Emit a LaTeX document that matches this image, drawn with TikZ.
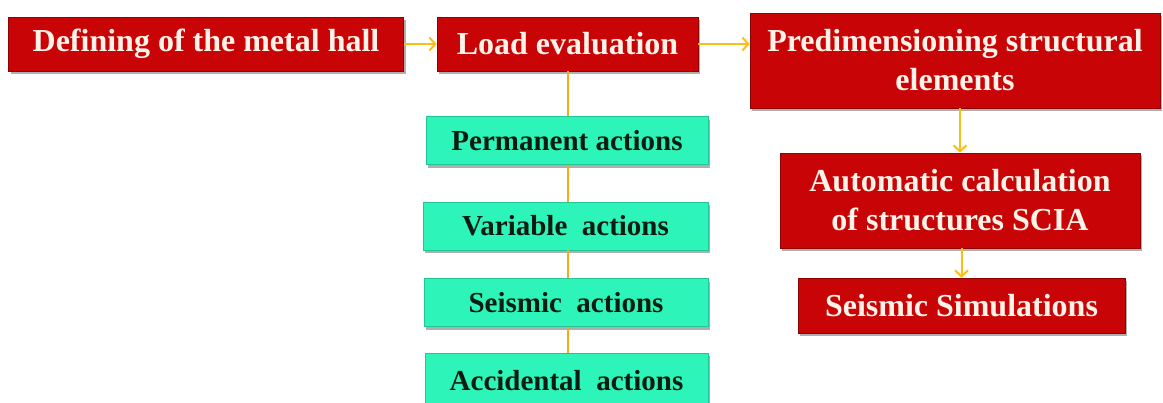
\documentclass[tikz,border=0pt]{standalone}
\usepackage{fontspec}
\setmainfont{Liberation Serif}
\usetikzlibrary{shadows,arrows.meta}
\definecolor{boxred}{RGB}{200,4,6}
\definecolor{boxgreen}{RGB}{45,245,185}
\definecolor{txtred}{RGB}{255,242,232}
\definecolor{txtgreen}{RGB}{12,28,16}
\definecolor{linkgold}{RGB}{250,190,20}
\definecolor{linkorange}{RGB}{250,170,20}
\definecolor{shadowgray}{RGB}{175,175,175}
\tikzset{
  boxshadow/.style={drop shadow={fill=shadowgray, opacity=1, shadow xshift=2pt, shadow yshift=-3pt}},
  redbox/.style={draw=boxred!70!black, line width=0.6pt, fill=boxred, text=txtred,
    font=\bfseries\fontsize{32}{39}\selectfont, align=center, inner sep=0pt, boxshadow},
  greenbox/.style={draw=boxgreen!80!black, line width=0.6pt, fill=boxgreen, text=txtgreen,
    font=\bfseries\fontsize{29}{31}\selectfont, align=center, inner sep=0pt,
    minimum height=48pt, boxshadow},
  goarrow/.style={draw=linkgold, line width=2pt, -{Straight Barb[length=6pt,width=13pt,line width=2pt]}},
  tieline/.style={draw=linkorange, line width=2pt}
}
\begin{document}
\begin{tikzpicture}[x=1pt,y=-1pt]
\useasboundingbox (0,0) rectangle (1163,402);
\node[redbox, minimum width=395pt, minimum height=54pt] (def) at (206,44) {Defining of the metal hall};
\node[redbox, minimum width=261pt, minimum height=54pt] (load) at (567.5,44) {Load evaluation};
\node[redbox, minimum width=410pt, minimum height=95pt] (pre) at (955,60.5) {Predimensioning structural\\elements};
\node[redbox, minimum width=360pt, minimum height=95pt] (auto) at (960,200.5) {Automatic calculation\\of structures SCIA};
\node[redbox, minimum width=327pt, minimum height=55pt] (sim) at (961.5,305.5) {Seismic Simulations};
\node[greenbox, minimum width=282pt] (perm) at (567,140.5) {Permanent actions};
\node[greenbox, minimum width=285pt] (var) at (565.5,226) {Variable\ \ actions};
\node[greenbox, minimum width=284pt] (seis) at (566,302.5) {Seismic\ \ actions};
\node[greenbox, minimum width=283pt, minimum height=60pt, text depth=0pt] (acc) at (566.5,383) {\raisebox{5pt}{Accidental\ \ actions}};
\draw[goarrow] (def.east) -- (load.west);
\draw[goarrow] (load.east) -- (load.east -| pre.west);
\draw[goarrow] (pre.south -| auto.north) -- (auto.north);
\draw[goarrow] (auto.south -| sim.north) -- (sim.north);
\draw[tieline] (load.south) -- (perm.north -| load.south);
\draw[tieline] (perm.south -| load.south) -- (var.north -| load.south);
\draw[tieline] (var.south -| load.south) -- (seis.north -| load.south);
\draw[tieline] (seis.south -| load.south) -- (acc.north -| load.south);
\end{tikzpicture}
\end{document}
